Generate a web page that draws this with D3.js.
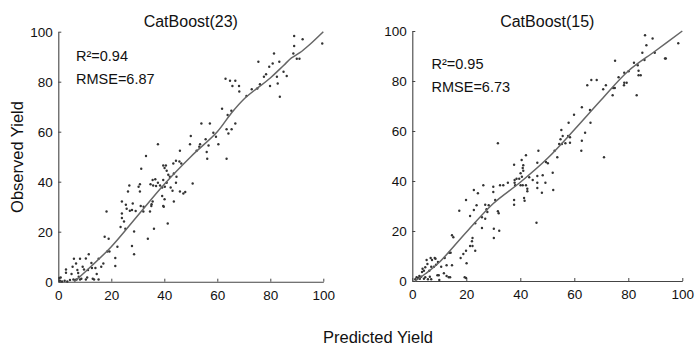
<!DOCTYPE html>
<html>
<head>
<meta charset="utf-8">
<script src="https://cdn.jsdelivr.net/npm/d3@7"></script>
<style>
  body { margin: 0; background: #fff; }
  svg { display: block; font-family: "Liberation Sans", Arial, sans-serif; }
</style>
</head>
<body>
<div id="container"></div>
<script>
// Panel Titles And Stats
var titles = ["CatBoost(23)", "CatBoost(15)"];
var r2Labels = ["R\u00b2=0.94", "R\u00b2=0.95"];
var rmseLabels = ["RMSE=6.87", "RMSE=6.73"];
var ticks = [0, 20, 40, 60, 80, 100];

// Scatter Points [predicted, observed]
var pointsLeft = [
  [89,98.3],[89,94.3],[92.2,97],[99.6,95.3],[88.7,91.3],[90,89.2],[91,89.2],[81.4,91.3],[75.5,88],[80.9,87.3],
  [83.4,88],[79.6,86],[78.4,83],[77.6,82],[85,84],[82.5,82],[86.2,82.3],[79.9,78.3],[82.8,79.3],[83.6,74],
  [75.1,77.3],[76.1,79],[73,77],[71,74.3],[63.1,81.2],[64.8,80.4],[66.8,80.4],[65.7,78.3],[68.2,78.3],[68.3,76.1],
  [61.8,69.2],[66.8,63.3],[65.3,68.4],[63.9,66.7],[63.5,61],[65.4,61],[64.2,59.3],[63.5,49.2],[54,63.3],[57.2,63.3],
  [50,58.3],[49.7,55],[55.6,57],[53.5,55],[53.2,54],[52.2,52.4],[56.7,54.5],[56,51.9],[56.2,49.2],[58.5,59.6],
  [59.5,58],[60.4,55],[50.7,39.3],[37.6,55],[33.1,50.3],[31.3,45.2],[45.9,52.4],[45.7,48.1],[46.4,47.3],[43.4,47.3],
  [44.4,48.4],[39.6,46.5],[40.6,46.5],[40.1,45.5],[40.9,44.4],[41.5,42.8],[42.1,42],[43.6,43.3],[44.6,42],[44.4,39.6],
  [39.6,40.7],[40.9,39.6],[35.6,40.7],[36.6,41],[37.6,39.6],[38.4,38.5],[34.8,39],[35.8,38.5],[36.9,38.3],[39.2,37.7],
  [40.2,38],[42.4,37.7],[43.1,36.4],[45.9,36.1],[47.9,35.9],[47.2,35.3],[39.2,34.3],[40.1,33],[39.6,30.3],[43.6,32.1],
  [41.3,23.3],[36.1,21.2],[33.8,17.2],[35.6,32.1],[35.1,30.3],[34.6,28.1],[30.8,39],[30.3,38],[30.8,36.1],[26.8,38.5],
  [26.3,36.1],[24,32.1],[25.5,30.8],[25.8,29.2],[27,28.4],[27.8,28.7],[24,27.3],[24,25.5],[24.8,24.1],[23.5,21.9],
  [25.3,21.2],[18.2,28.1],[28.1,31.3],[31.1,30.3],[32.1,28.1],[28.6,20.1],[27.8,14.3],[28.6,11],[22.3,14],[17.5,18],
  [19,17.2],[18.5,12.1],[19.3,12.1],[21.5,9.5],[21.5,6.3],[17,7.3],[16.2,6],[15.2,9.2],[14,5.5],[14.5,3.1],
  [11.5,11],[10.4,9.3],[12.7,5.5],[11.2,4.7],[9.2,6],[9.7,4.9],[8.2,9.2],[5.9,9.2],[6.7,7.3],[5.4,6],
  [2.9,4.9],[2.9,3.6],[5,3.1],[7.2,4.7],[7.7,2],[6.9,0.9],[4.4,0.7],[5.7,0.9],[6.4,0.7],[0.4,1.5],
  [0.6,0.4],[1.4,0.1],[2.4,0.4],[3.4,0.1],[10.4,0.9],[10.9,1.7],[13.5,0.9],[15.2,0.9],[0.9,1.7],[8.2,0.9],
  [8.7,1.2],[35.2,31],[32.2,30],[39.8,30],[29.2,28.3],[12.5,7.5],[13,1.2],[7.5,3.5]
];
var pointsRight = [
  [86.2,98.3],[89,97],[86.7,94.3],[98.5,95.1],[85.2,91.3],[89.8,91.3],[93.6,89],[93.9,89],[82.1,87.3],[83.5,86.3],
  [86,88.4],[75.1,88.1],[78.5,83.3],[80.1,83.9],[83.8,84.1],[84.6,82.3],[83.8,82.3],[76.4,81.5],[78.5,79.3],[79.4,79.3],
  [78.4,78.3],[74.4,77.2],[75,77.2],[74.2,74.3],[83.1,74.3],[71.7,78.3],[70.7,76.7],[71,49.5],[66.3,80.4],[68.3,80.4],
  [64.8,78.3],[62.8,69.5],[65.8,68.4],[66,63.3],[64,59.3],[62.8,56.1],[62.6,52.1],[59.9,66.5],[57.9,63.3],[55.2,60.4],
  [55.7,58],[54.9,56.7],[57.7,58],[58.4,57.5],[54.4,54.8],[55.4,54.8],[56.7,55.1],[52.7,52.1],[53.7,49.5],[58.4,55.3],
  [52,43.3],[52.2,36.4],[49.3,39.3],[49.5,47.6],[50.2,47.1],[46.7,52.1],[46.3,47.3],[46.3,42],[48.3,42.3],[46.3,39.3],
  [46.3,37.2],[48,35.3],[46,23.3],[31.7,55.1],[42.1,50.3],[40.5,48.4],[37.7,46.5],[41.1,46.3],[40.9,45.2],[41.1,44.1],
  [40.1,43.1],[40.6,41.7],[38.6,40.9],[39.6,40.9],[37.9,40.4],[37.9,39.3],[38.1,38.3],[40.1,38.3],[40.9,38.3],[42.1,38.3],
  [37.7,32.4],[37.7,30.5],[41.4,33.2],[41.6,32.1],[42.6,36.9],[42.6,35.9],[43.3,41.5],[44.6,40.4],[35.4,39.3],[33.7,38.3],
  [32.5,38.3],[30,37.7],[30,35.6],[30.7,32.4],[31.7,27.9],[32,27.1],[26.3,38.3],[24.3,35.1],[22.8,36.4],[19.9,32.4],
  [23.8,30.3],[27,30.5],[28.3,30.3],[27.5,28.7],[27.8,27.6],[22.8,28.4],[17.4,28.1],[21.4,26],[25.8,25.5],[27,24.9],
  [23.3,23.1],[25.8,21.2],[30.2,20.9],[32.2,20.1],[30.2,17.2],[22.3,17.2],[22.1,15.9],[21.4,14],[22.3,14],[23.3,12.1],
  [19.9,12.1],[18.9,10.8],[17.9,9.2],[20.1,7.1],[14.7,18.3],[15.2,17.5],[13.7,11.3],[14.2,11.3],[14.7,6.3],[12.7,6.3],
  [12,9.2],[10.7,5.7],[9.5,7.6],[8.8,6.5],[8,5.7],[8.3,9.2],[8.6,8.9],[6.8,9.2],[7.3,8.4],[5.3,8.4],
  [5.6,6.8],[4.8,5.5],[3.8,4.9],[3.6,3.6],[4.3,4.1],[7,5.7],[6.3,4.1],[6.5,1.7],[7,0.7],[9.3,2.3],
  [9.8,2.3],[10,0.4],[11.7,3.1],[12.7,2],[13.5,1.5],[14,1.5],[19.4,1.5],[19.9,1.2],[1.1,0.7],[2.1,1.2],
  [2.8,0.9],[3.3,1.7],[4.3,0.9],[4.8,1.5],[5.8,0.7],[1.6,1.5],[2.6,2]
];

// Smoothed Fit Lines (Knots)
var fitLeft = [[6,0],[10,3.8],[20,14],[30,26.5],[40,39],[50,50],[60,60],[65,67],[70,73],[80,81.5],[85,86.5],[88,89.5],[91,91.5],[95,95],[100,100]];
var fitRight = [[1,0],[5,3],[10,7.5],[20,19.5],[30,31],[40,39.5],[50,49],[60,60.5],[70,72.5],[80,84],[90,92],[100,100]];

var W = 696, H = 347;

// Panel Layout
var panels = [
  { title: titles[0], r2: r2Labels[0], rmse: rmseLabels[0], pts: pointsLeft, fit: fitLeft,
    x0: 58.3, x1: 323.3, y0: 281.7, y1: 31.7, annX: 76, annY: 61 },
  { title: titles[1], r2: r2Labels[1], rmse: rmseLabels[1], pts: pointsRight, fit: fitRight,
    x0: 412.3, x1: 682.3, y0: 281, y1: 31, annX: 431.5, annY: 69 }
];

var svg = d3.select('#container').append('svg')
    .attr('width', W)
    .attr('height', H);
svg.append('rect').attr('width', W).attr('height', H).attr('fill', '#fff');

panels.forEach(function(p) {
  var x = d3.scaleLinear().domain([0, 100]).range([p.x0, p.x1]);
  var y = d3.scaleLinear().domain([0, 100]).range([p.y0, p.y1]);
  var g = svg.append('g');

  // Axes (Ticks Point Inward)
  var xAxis = g.append('g')
      .attr('transform', 'translate(0,' + p.y0 + ')')
      .call(d3.axisBottom(x).tickValues(ticks).tickSizeInner(-3).tickSizeOuter(0).tickPadding(8.5));
  var yAxis = g.append('g')
      .attr('transform', 'translate(' + p.x0 + ',0)')
      .call(d3.axisLeft(y).tickValues(ticks).tickSizeInner(-3).tickSizeOuter(0).tickPadding(5.5));
  [xAxis, yAxis].forEach(function(a) {
    a.select('.domain').attr('stroke', '#444').attr('stroke-width', 1.1);
    a.selectAll('.tick line').attr('stroke', '#444');
    a.selectAll('.tick text').attr('fill', '#111').style('font-size', '13.5px')
      .style('font-family', '"Liberation Sans", Arial, sans-serif');
  });

  // Points
  g.selectAll('circle.pt').data(p.pts).enter().append('circle')
      .attr('class', 'pt')
      .attr('cx', function(d) { return x(d[0]); })
      .attr('cy', function(d) { return y(d[1]); })
      .attr('r', 1.2)
      .attr('fill', '#333');

  // Fit Line
  var line = d3.line()
      .x(function(d) { return x(d[0]); })
      .y(function(d) { return y(d[1]); })
      .curve(d3.curveCatmullRom);
  g.append('path').datum(p.fit)
      .attr('d', line)
      .attr('fill', 'none')
      .attr('stroke', '#666')
      .attr('stroke-width', 1.5);

  // Title And Stats
  g.append('text')
      .attr('x', (p.x0 + p.x1) / 2).attr('y', 26.5)
      .attr('text-anchor', 'middle')
      .style('font-size', '16px').attr('fill', '#111')
      .text(p.title);
  g.append('text')
      .attr('x', p.annX).attr('y', p.annY)
      .style('font-size', '14.5px').attr('fill', '#111')
      .text(p.r2);
  g.append('text')
      .attr('x', p.annX).attr('y', p.annY + 23)
      .style('font-size', '14.5px').attr('fill', '#111')
      .text(p.rmse);
});

// Shared Axis Labels
svg.append('text')
    .attr('transform', 'translate(23,157) rotate(-90)')
    .attr('text-anchor', 'middle')
    .style('font-size', '16.5px').attr('fill', '#111')
    .text('Observed Yield');
svg.append('text')
    .attr('x', 378).attr('y', 343)
    .attr('text-anchor', 'middle')
    .style('font-size', '16.5px').attr('fill', '#111')
    .text('Predicted Yield');
</script>
</body>
</html>
